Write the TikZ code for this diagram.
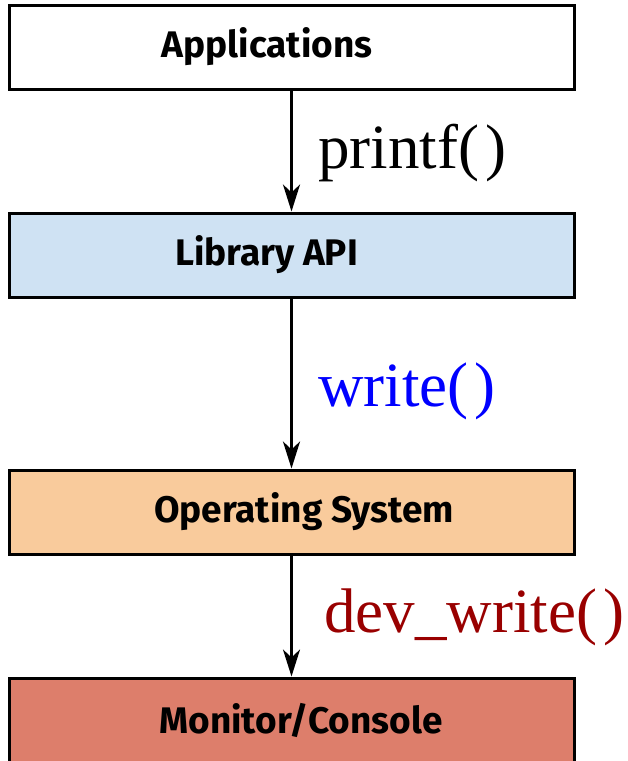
\documentclass[tikz,border=0pt]{standalone}
\usepackage{fontspec}
\setmainfont{Liberation Serif}
\setsansfont{Fira Sans}
\usetikzlibrary{arrows.meta}
\definecolor{libblue}{HTML}{CFE2F3}
\definecolor{osorange}{HTML}{F9CB9C}
\definecolor{monred}{HTML}{DD7E6B}
\definecolor{devred}{HTML}{990000}
\newcommand{\parens}{(\kern6pt)}
\tikzset{
  layer/.style={draw, line width=3pt, minimum width=565pt, minimum height=84pt,
    font=\sffamily\bfseries\fontsize{37}{42}\selectfont},
  call/.style={anchor=base west, inner sep=0pt, font=\fontsize{63}{70}\selectfont}
}
\begin{document}
\begin{tikzpicture}[x=1pt, y=-1pt, >={Stealth[length=27pt, width=17pt, inset=8pt]}]
        \useasboundingbox (0,0) rectangle (628,761);
        \node at (291.5,47) [layer, fill=white] (app) {\kern-49pt Applications};
        \node at (291.5,255) [layer, fill=libblue] (lib) {\kern-50pt Library API};
        \node at (291.5,512) [layer, fill=osorange] (os) {\kern25pt Operating System};
        \node at (291.5,720) [layer, fill=monred] (mon) {\kern19pt Monitor/Console};
        \node at (318,168) [call] (printf) {printf\parens};
        \node at (318,406) [call, text=blue] (write) {write\parens};
        \node at (324,632) [call, text=devred] (devwrite) {dev\_write\parens};
        \draw[->, line width=3pt] (app) -- (lib);
        \draw[->, line width=3pt] (lib) -- (os);
        \draw[->, line width=3pt] (os) -- (mon);
      \end{tikzpicture}
\end{document}
